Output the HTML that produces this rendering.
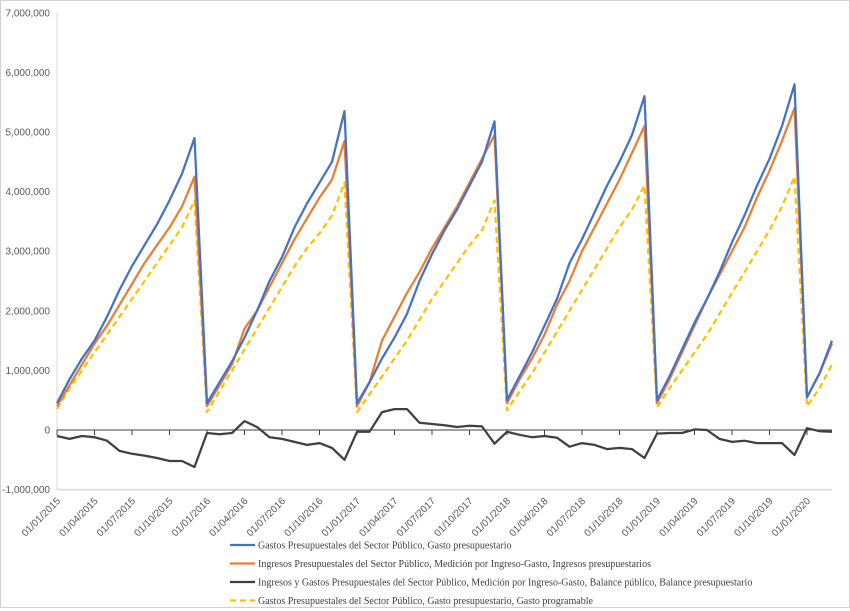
<!DOCTYPE html>
<html><head><meta charset="utf-8">
<style>
html,body{margin:0;padding:0;background:#fff;}
#wrap{position:relative;width:850px;height:611px;overflow:hidden;}
svg{position:absolute;left:0;top:0;}
</style></head>
<body>
<div id="wrap">
<svg id="chart" width="850" height="611"></svg>
</div>
<script>
const yTicks = [-1000000,0,1000000,2000000,3000000,4000000,5000000,6000000,7000000];
const tickLabels = ["01/01/2015","01/04/2015","01/07/2015","01/10/2015","01/01/2016","01/04/2016","01/07/2016","01/10/2016","01/01/2017","01/04/2017","01/07/2017","01/10/2017","01/01/2018","01/04/2018","01/07/2018","01/10/2018","01/01/2019","01/04/2019","01/07/2019","01/10/2019","01/01/2020"];
const gastoM = [0.45,0.85,1.2,1.5,1.9,2.35,2.75,3.1,3.45,3.85,4.3,4.9, 0.45,0.8,1.15,1.55,2.0,2.5,2.9,3.4,3.8,4.15,4.5,5.35, 0.45,0.8,1.2,1.55,1.95,2.5,2.95,3.35,3.7,4.1,4.5,5.18, 0.5,0.9,1.3,1.75,2.2,2.8,3.2,3.65,4.1,4.5,4.95,5.6, 0.5,0.9,1.35,1.8,2.2,2.65,3.15,3.6,4.1,4.55,5.1,5.8, 0.55,0.95,1.5];
const ingresosM = [0.4,0.75,1.1,1.45,1.75,2.1,2.45,2.8,3.1,3.4,3.75,4.25, 0.4,0.75,1.1,1.7,2.0,2.4,2.8,3.2,3.55,3.9,4.2,4.85, 0.4,0.8,1.5,1.9,2.3,2.65,3.05,3.4,3.75,4.15,4.55,4.95, 0.45,0.85,1.2,1.6,2.1,2.5,3.0,3.4,3.8,4.2,4.65,5.1, 0.45,0.85,1.3,1.75,2.2,2.6,3.0,3.4,3.9,4.35,4.85,5.4, 0.55,0.95,1.45];
const balanceM = [-0.1,-0.15,-0.1,-0.12,-0.18,-0.35,-0.4,-0.43,-0.47,-0.52,-0.52,-0.62, -0.05,-0.07,-0.05,0.15,0.05,-0.12,-0.15,-0.2,-0.25,-0.22,-0.3,-0.5, -0.03,-0.03,0.3,0.35,0.35,0.12,0.1,0.08,0.05,0.07,0.06,-0.23, -0.03,-0.08,-0.12,-0.1,-0.13,-0.28,-0.22,-0.25,-0.32,-0.3,-0.32,-0.47, -0.06,-0.05,-0.05,0.01,0,-0.15,-0.2,-0.18,-0.22,-0.22,-0.22,-0.42, 0.03,-0.02,-0.03];
const programableM = [0.35,0.7,1.0,1.3,1.6,1.9,2.2,2.5,2.8,3.1,3.4,3.85, 0.3,0.65,1.0,1.35,1.7,2.05,2.4,2.75,3.05,3.3,3.6,4.15, 0.3,0.6,0.9,1.2,1.5,1.85,2.2,2.5,2.8,3.1,3.35,3.85, 0.33,0.65,0.95,1.3,1.65,2.0,2.35,2.7,3.05,3.4,3.7,4.1, 0.38,0.7,1.0,1.3,1.6,1.95,2.3,2.65,3.0,3.35,3.75,4.25, 0.4,0.7,1.1];
const legendLabels = ["Gastos Presupuestales del Sector Público, Gasto presupuestario","Ingresos Presupuestales del Sector Público, Medición por Ingreso-Gasto, Ingresos presupuestarios","Ingresos y Gastos Presupuestales del Sector Público, Medición por Ingreso-Gasto, Balance público, Balance presupuestario","Gastos Presupuestales del Sector Público, Gasto presupuestario, Gasto programable"];

const NS="http://www.w3.org/2000/svg";
const svg=document.getElementById('chart');
const X0=57, X1=832, Y0=430, PXM=59.6;
const N=gastoM.length;
function xs(i){return X0+i*(X1-X0)/(N-1);}
function ys(v){return Y0 - v/1e6*PXM;}
function mk(tag,attrs){const e=document.createElementNS(NS,tag);for(const k in attrs)e.setAttribute(k,attrs[k]);svg.appendChild(e);return e;}

// border
const border=mk('rect',{x:0.5,y:0.5,width:849,height:607,fill:'none',stroke:'#d0d0d0','stroke-width':1});



// y axis
const yax=mk('line',{x1:X0,y1:ys(7e6),x2:X0,y2:ys(-1e6),stroke:'#d9d9d9','stroke-width':1});


const bax=mk('line',{x1:X0,y1:ys(-1e6),x2:X1,y2:ys(-1e6),stroke:'#d9d9d9','stroke-width':1.5});



yTicks.forEach(v=>{
  const t=mk('text',{x:X0-7,y:ys(v)+3.5,'text-anchor':'end','font-family':'Liberation Sans, sans-serif','font-size':'10',fill:'#595959'});
  t.textContent=v.toLocaleString('en-US');
  
  
});

// zero axis with ticks
const zax=mk('line',{x1:X0,y1:Y0,x2:X1,y2:Y0,stroke:'#404040','stroke-width':1});


tickLabels.forEach((lab,k)=>{
  const i=k*3, x=xs(i);
  const tk=mk('line',{x1:x,y1:Y0,x2:x,y2:Y0+5,stroke:'#404040','stroke-width':1});
  
  
  const t=mk('text',{x:0,y:0,'text-anchor':'end','font-family':'Liberation Sans, sans-serif','font-size':'10',fill:'#595959',transform:`translate(${x+4},${ys(-1e6)+12}) rotate(-45)`});
  t.textContent=lab;
  
  
});

function series(arr,color,dash,name){
  const pts=arr.map((v,i)=>xs(i).toFixed(1)+','+ys(v*1e6).toFixed(1)).join(' ');
  const p=mk('polyline',{points:pts,fill:'none',stroke:color,'stroke-width':2.25,'stroke-linejoin':'round'});
  if(dash)p.setAttribute('stroke-dasharray',dash);
  
  
}
series(programableM,'#ffc000','6,4','series-gasto-programable');
series(balanceM,'#404040',null,'series-balance-presupuestario');
series(ingresosM,'#ed7d31',null,'series-ingresos-presupuestarios');
series(gastoM,'#4472c4',null,'series-gasto-presupuestario');

// legend
const colors=['#4472c4','#ed7d31','#404040','#ffc000'];
legendLabels.forEach((lab,k)=>{
  const y=545+k*18.5;
  const l=mk('line',{x1:230,y1:y,x2:255,y2:y,stroke:colors[k],'stroke-width':2.25});
  if(k===3)l.setAttribute('stroke-dasharray','6,4');
  
  
  const t=mk('text',{x:258,y:y+3.5,'font-family':'Liberation Serif, serif','font-size':'10',fill:'#404040'});
  t.textContent=lab;
  
  
});
</script>
</body></html>
